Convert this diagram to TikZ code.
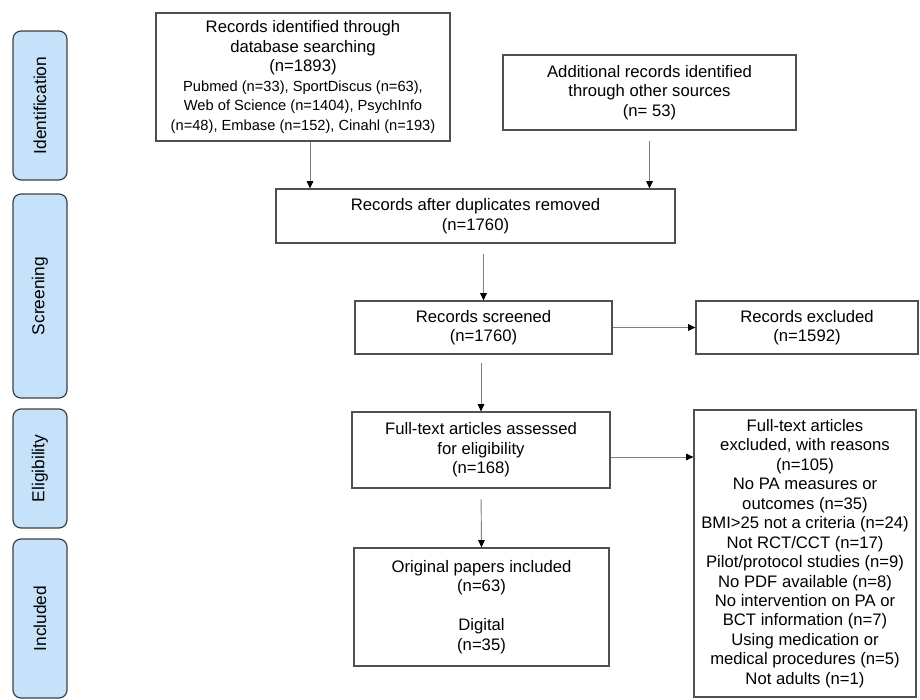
\documentclass[tikz,border=0pt]{standalone}
\usepackage{fontspec}
\setmainfont{Liberation Sans}
\usetikzlibrary{arrows.meta,positioning}
\definecolor{phasefill}{RGB}{197,226,250}
\definecolor{boxline}{RGB}{80,80,80}
\newcommand\smallfnt{\fontsize{11}{12.4}\selectfont}

\begin{document}
\begin{tikzpicture}[
  x=0.75pt, y=-0.75pt,
  box/.style={draw=boxline, line width=0.9pt, align=center, inner sep=2pt,
    font=\fontsize{12.5}{14.6}\selectfont},
  phase/.style={draw=black!75, fill=phasefill, rounded corners=6pt, line width=0.9pt,
    rotate=90, minimum height=40.5pt, inner sep=0pt, font=\fontsize{13}{15}\selectfont},
  arr/.style={-{Triangle[length=5.5pt,width=5pt,black]}, draw=black!50, line width=0.7pt}
]
\useasboundingbox (0,0) rectangle (920,699);

\node[phase, minimum width=111.75pt] (pid) at (40,105.5) {Identification};
\node[phase, minimum width=153pt] (psc) at (40,296) {Screening};
\node[phase, minimum width=89.25pt] (pel) at (40,468.5) {Eligibility};
\node[phase, minimum width=119.25pt] (pin) at (40,618.5) {Included};

\node[box, minimum width=220.5pt, minimum height=96pt] (rec) at (303,77)
  {Records identified through\\ database searching\\ (n=1893)\\
   \smallfnt Pubmed (n=33), SportDiscus (n=63),\\
   \smallfnt Web of Science (n=1404), PsychInfo\\
   \smallfnt (n=48), Embase (n=152), Cinahl (n=193)};
\node[box, minimum width=219.75pt, minimum height=56.25pt] (add) at (649.5,92.5)
  {Additional records identified\\ through other sources\\ (n= 53)};
\node[box, minimum width=299.25pt, minimum height=40.5pt] (dup) at (475.5,216)
  {Records after duplicates removed\\ (n=1760)};
\node[box, minimum width=192.75pt, minimum height=39.75pt] (scr) at (483.5,327.5)
  {Records screened\\ (n=1760)};
\node[box, minimum width=166.5pt, minimum height=39.75pt] (exc) at (807,327.5)
  {Records excluded\\ (n=1592)};
\node[box, minimum width=193.5pt, minimum height=57pt] (ft) at (481,450)
  {Full-text articles assessed\\ for eligibility\\ (n=168)};
\node[box, minimum width=166.5pt, minimum height=215.25pt] (ftx) at (805,553.5)
  {Full-text articles\\ excluded, with reasons\\ (n=105)\\ No PA measures or\\
   outcomes (n=35)\\ BMI>25 not a criteria (n=24)\\ Not RCT/CCT (n=17)\\
   Pilot/protocol studies (n=9)\\ No PDF available (n=8)\\ No intervention on PA or\\
   BCT information (n=7)\\ Using medication or\\ medical procedures (n=5)\\
   Not adults (n=1)};
\node[box, minimum width=191.25pt, minimum height=88.5pt] (inc) at (481.5,607)
  {Original papers included\\ (n=63)\\[14.6pt] Digital\\ (n=35)};

\draw[arr] ([xshift=5.25pt]rec.south) -- ([xshift=5.25pt]rec.south |- dup.north);
\draw[arr, shorten <=7.5pt] (add.south) -- (add.south |- dup.north);
\draw[arr, shorten <=7.5pt] (scr.north |- dup.south) -- (scr.north);
\draw[arr] (scr.east) -- (exc.west);
\draw[arr, shorten <=6.5pt] (ft.north |- scr.south) -- (ft.north);
\draw[arr] ([yshift=-5.25pt]ft.east) -- ([yshift=-5.25pt]ft.east -| ftx.west);
\draw[arr, shorten <=8pt] (ft.south) -- (inc.north);
\end{tikzpicture}
\end{document}
